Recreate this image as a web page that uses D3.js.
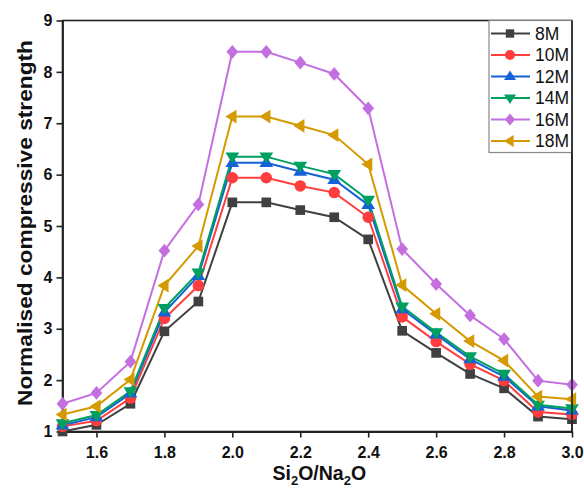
<!DOCTYPE html>
<html><head><meta charset="utf-8">
<script src="https://cdn.jsdelivr.net/npm/d3@7"></script>
<style>body{margin:0;background:#fff}svg{display:block}</style>
</head><body>
<script>
const xValues = [1.5,1.6,1.7,1.8,1.9,2.0,2.1,2.2,2.3,2.4,2.5,2.6,2.7,2.8,2.9,3.0];
const seriesNames = ["8M","10M","12M","14M","16M","18M"];
const s8M  = [1.00,1.13,1.54,2.95,3.53,5.46,5.46,5.31,5.17,4.74,2.96,2.53,2.12,1.84,1.29,1.24];
const s10M = [1.10,1.21,1.65,3.20,3.84,5.94,5.94,5.78,5.65,5.17,3.23,2.75,2.31,1.99,1.38,1.33];
const s12M = [1.12,1.28,1.74,3.32,4.03,6.23,6.23,6.06,5.90,5.41,3.38,2.89,2.41,2.07,1.49,1.41];
const s14M = [1.16,1.32,1.78,3.40,4.09,6.35,6.35,6.17,6.01,5.51,3.43,2.93,2.46,2.12,1.52,1.45];
const s16M = [1.54,1.75,2.36,4.52,5.42,8.39,8.39,8.18,7.96,7.29,4.55,3.87,3.26,2.80,1.99,1.91];
const s18M = [1.33,1.49,2.01,3.84,4.61,7.13,7.13,6.95,6.77,6.20,3.85,3.29,2.76,2.38,1.68,1.63];
const xTicks = [1.6,1.8,2.0,2.2,2.4,2.6,2.8,3.0];
const yTicks = [1,2,3,4,5,6,7,8,9];

const seriesValues = [s8M,s10M,s12M,s14M,s16M,s18M];
const colors = ["#404040","#ff3d3d","#1462d6","#00a060","#c46fe0","#d49a00"];
const symbols = ["square","circle","triUp","triDown","diamond","triLeft"];

const W=584,H=488;
const m={l:62.5,r:12,t:20.5,b:56.5};
const svg=d3.select("body").append("svg").attr("width",W).attr("height",H);
const x=d3.scaleLinear().domain([1.5,3.0]).range([m.l,W-m.r]);
const y=d3.scaleLinear().domain([1,9]).range([H-m.b,m.t]);

// frame
svg.append("rect").attr("x",m.l).attr("y",m.t).attr("width",W-m.r-m.l).attr("height",H-m.b-m.t)
  .attr("fill","none").attr("stroke","#222").attr("stroke-width",1.6);

const font="Liberation Sans, Arial, sans-serif";
const xAxis=svg.append("g").attr("transform",`translate(0,${H-m.b})`)
  .call(d3.axisBottom(x).tickValues(xTicks).tickFormat(d3.format(".1f")).tickSize(6).tickSizeOuter(0));
const yAxis=svg.append("g").attr("transform",`translate(${m.l},0)`)
  .call(d3.axisLeft(y).tickValues(yTicks).tickFormat(d3.format("d")).tickSize(6).tickSizeOuter(0));
[xAxis,yAxis].forEach(a=>{
  a.select(".domain").attr("stroke","#222").attr("stroke-width",1.8);
  a.selectAll(".tick line").attr("stroke","#222").attr("stroke-width",1.6);
  a.selectAll(".tick text").attr("fill","#111").style("font-family",font).style("font-size","16px").style("font-weight","bold");
});
xAxis.selectAll(".tick text").attr("dy","1.1em");
yAxis.selectAll(".tick text").attr("x",-10);

function drawSymbol(g,type,cx,cy,color,s){
  let p;
  if(type==="square"){ g.append("rect").attr("x",cx-s*0.42).attr("y",cy-s*0.42).attr("width",s*0.84).attr("height",s*0.84).attr("fill",color); return; }
  if(type==="circle"){ g.append("circle").attr("cx",cx).attr("cy",cy).attr("r",s*0.5).attr("fill",color); return; }
  const r=s*0.6;
  if(type==="triUp") p=[[cx,cy-r],[cx+r,cy+r*0.6],[cx-r,cy+r*0.6]];
  if(type==="triDown") p=[[cx,cy+r],[cx+r,cy-r*0.6],[cx-r,cy-r*0.6]];
  if(type==="triLeft") p=[[cx-r,cy],[cx+r*0.6,cy-r],[cx+r*0.6,cy+r]];
  if(type==="diamond") p=[[cx,cy-r],[cx+r*0.85,cy],[cx,cy+r],[cx-r*0.85,cy]];
  g.append("polygon").attr("points",p.map(q=>q.join(",")).join(" ")).attr("fill",color);
}

const plot=svg.append("g");
const line=d3.line().x((d,i)=>x(xValues[i])).y(d=>y(d));
seriesValues.forEach((vals,k)=>{
  plot.append("path").attr("d",line(vals)).attr("fill","none").attr("stroke",colors[k]).attr("stroke-width",2);
});
seriesValues.forEach((vals,k)=>{
  const g=plot.append("g");
  vals.forEach((v,i)=>drawSymbol(g,symbols[k],x(xValues[i]),y(v),colors[k],11.5));
});

// legend
const lg=svg.append("g");
const lx0=489, ly0=m.t, lw=(W-m.r)-lx0, lh=132;
lg.append("rect").attr("x",lx0).attr("y",ly0).attr("width",lw).attr("height",lh).attr("fill","#fff").attr("stroke","#888").attr("stroke-width",1.2);
seriesNames.forEach((n,k)=>{
  const cy=33.5+k*21.5;
  lg.append("line").attr("x1",491).attr("x2",530).attr("y1",cy).attr("y2",cy).attr("stroke",colors[k]).attr("stroke-width",2);
  drawSymbol(lg,symbols[k],510,cy,colors[k],10);
  lg.append("text").attr("x",535).attr("y",cy).attr("dy","0.36em").text(n)
    .style("font-family",font).style("font-size","17.5px").attr("fill","#111");
});
// redraw right edge of frame over legend
svg.append("line").attr("x1",W-m.r).attr("x2",W-m.r).attr("y1",m.t).attr("y2",H-m.b).attr("stroke","#222").attr("stroke-width",1.6);

// axis titles
const xt=svg.append("text").attr("x",(m.l+W-m.r)/2+2).attr("y",480).attr("text-anchor","middle")
  .style("font-family",font).style("font-size","19.5px").style("font-weight","bold").attr("fill","#111");
xt.append("tspan").text("Si");
xt.append("tspan").text("2").attr("dy",5).style("font-size","13px");
xt.append("tspan").text("O/Na").attr("dy",-5);
xt.append("tspan").text("2").attr("dy",5).style("font-size","13px");
xt.append("tspan").text("O").attr("dy",-5);

svg.append("text").attr("transform",`translate(32,223) rotate(-90)`).attr("text-anchor","middle")
  .attr("textLength",366).attr("lengthAdjust","spacingAndGlyphs")
  .text("Normalised compressive strength")
  .style("font-family",font).style("font-size","20.5px").style("font-weight","bold").attr("fill","#111");
</script>
</body></html>
